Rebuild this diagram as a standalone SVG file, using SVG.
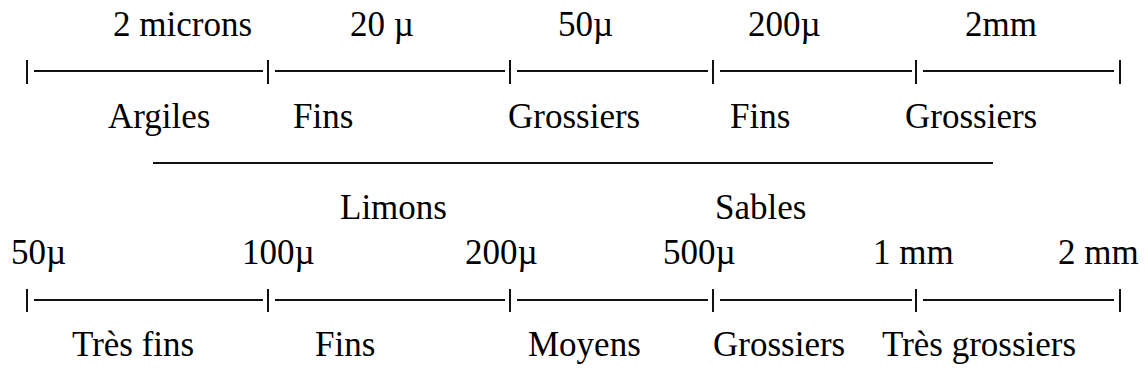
<svg xmlns="http://www.w3.org/2000/svg" width="1148" height="389" viewBox="0 0 1148 389">
<style>
text{font-family:"Liberation Serif","Times New Roman",serif;font-size:35px;fill:#000}
.l{stroke:#111;stroke-width:2;fill:none}
</style>
<rect width="1148" height="389" fill="#fff"/>
<g id="connectors">
<path class="l" d="M34 71H263M275 71H505M517 71H708M720 71H912M923 71H1114"/>
<path class="l" d="M27 60V84M268 60V84M510 60V84M713 60V84M916 60V84M1120 60V84"/>
<path class="l" d="M153 163H993"/>
<path class="l" d="M34 300H263M275 300H505M517 300H708M720 300H912M923 300H1114"/>
<path class="l" d="M27 289V312M268 289V312M510 289V312M713 289V312M916 289V312M1120 289V312"/>
</g>
<g id="top-scale">
<text x="113" y="36">2 microns</text>
<text x="350" y="36">20 µ</text>
<text x="558" y="36">50µ</text>
<text x="748" y="36">200µ</text>
<text x="965" y="36">2mm</text>
</g>
<g id="top-classes">
<text x="108" y="128">Argiles</text>
<text x="293" y="128">Fins</text>
<text x="508" y="128">Grossiers</text>
<text x="730" y="128">Fins</text>
<text x="905" y="128">Grossiers</text>
</g>
<g id="groups">
<text x="340" y="219">Limons</text>
<text x="715" y="219">Sables</text>
</g>
<g id="bottom-scale">
<text x="11" y="264">50µ</text>
<text x="242" y="264">100µ</text>
<text x="465" y="264">200µ</text>
<text x="663" y="264">500µ</text>
<text x="873" y="264">1 mm</text>
<text x="1058" y="264">2 mm</text>
</g>
<g id="bottom-classes">
<text x="72" y="356">Très fins</text>
<text x="315" y="356">Fins</text>
<text x="528" y="356">Moyens</text>
<text x="713" y="356">Grossiers</text>
<text x="882" y="356">Très grossiers</text>
</g>
</svg>
